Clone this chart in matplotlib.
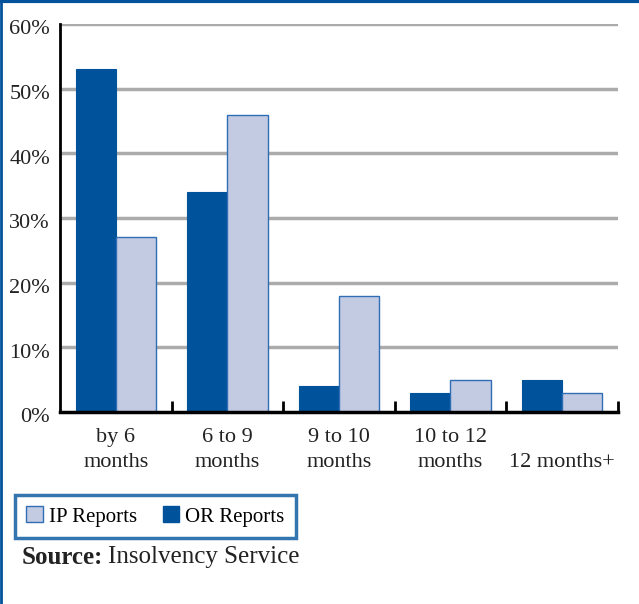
import numpy as np
import matplotlib.pyplot as plt
from matplotlib.patches import Patch
from matplotlib.lines import Line2D
from matplotlib.transforms import blended_transform_factory

categories = ["by 6\nmonths", "6 to 9\nmonths", "9 to 10\nmonths", "10 to 12\nmonths", "12 months+"]
or_reports = [53, 34, 4, 3, 5]
ip_reports = [27, 46, 18, 5, 3]
y_ticks = [0, 10, 20, 30, 40, 50, 60]

dark_blue = "#00529b"
light_blue = "#c3cbe3"

plt.rcParams['font.family'] = ['Liberation Serif', 'DejaVu Serif']

fig = plt.figure(figsize=(6.39, 6.04), dpi=100)
ax = fig.add_axes([0.0939, 0.3179, 0.873, 0.6424])

x = np.arange(len(categories))
w = 0.36
ax.bar(x - w / 2, or_reports, w, color=dark_blue, edgecolor=dark_blue, linewidth=0.8, zorder=3)
ax.bar(x + w / 2, ip_reports, w, color=light_blue, edgecolor="#2f6db5", linewidth=1.0, zorder=3)

ax.set_xlim(-0.5, len(categories) - 0.5)
ax.set_ylim(0, 60)

# grid lines
for v in y_ticks[1:]:
    ax.axhline(v, color="#ababab", linewidth=2.5, zorder=1)

for s in ["top", "right"]:
    ax.spines[s].set_visible(False)
ax.spines["left"].set_linewidth(2)
ax.spines["bottom"].set_linewidth(2.5)
ax.spines["left"].set_zorder(4)
ax.spines["bottom"].set_zorder(4)

# y labels, sitting a little below their grid line
ax.set_yticks(y_ticks)
ax.set_yticklabels([])
ax.tick_params(axis="y", length=0)
for v in y_ticks:
    ax.text(-0.018, v - 0.9, f"{v}%", transform=blended_transform_factory(ax.transAxes, ax.transData),
            ha="right", va="center", fontsize=16, color="#222222")

# category boundary ticks
ax.set_xticks(x + 0.5)
ax.set_xticklabels([])
ax.tick_params(axis="x", direction="in", length=8, width=2)

tr = blended_transform_factory(ax.transData, ax.transAxes)
for i, lab in enumerate(categories):
    if "\n" in lab:
        ax.text(i, -0.04, lab, transform=tr, ha="center", va="top", fontsize=16,
                linespacing=1.45, color="#222222")
    else:
        ax.text(i, -0.13, lab, transform=tr, ha="center", va="center", fontsize=16,
                color="#222222")

# legend
handles = [Patch(facecolor=light_blue, edgecolor="#2f6db5", linewidth=1),
           Patch(facecolor=dark_blue, edgecolor=dark_blue)]
leg = fig.legend(handles, ["IP Reports", "OR Reports"], loc="upper left",
                 bbox_to_anchor=(0.0235, 0.1805), ncol=2, fancybox=False,
                 borderaxespad=0, handlelength=0.8, handleheight=0.8,
                 handletextpad=0.3, columnspacing=1.2, fontsize=15,
                 borderpad=0.55)
leg.get_frame().set_edgecolor(dark_blue)
leg.get_frame().set_linewidth(2.5)

# source line
t = fig.text(0.034, 0.077, "Source:", fontweight="bold", fontsize=18, va="center", color="#222222")
fig.canvas.draw()
bb = t.get_window_extent().transformed(fig.transFigure.inverted())
fig.text(bb.x1 + 0.008, 0.077, "Insolvency Service", fontsize=18, va="center", color="#222222")

# frame lines on top and left edge
fig.add_artist(Line2D([0, 1], [0.998, 0.998], transform=fig.transFigure, color=dark_blue, linewidth=3))
fig.add_artist(Line2D([0.002, 0.002], [0, 1], transform=fig.transFigure, color=dark_blue, linewidth=2))

fig.savefig("out.png", dpi=100)
